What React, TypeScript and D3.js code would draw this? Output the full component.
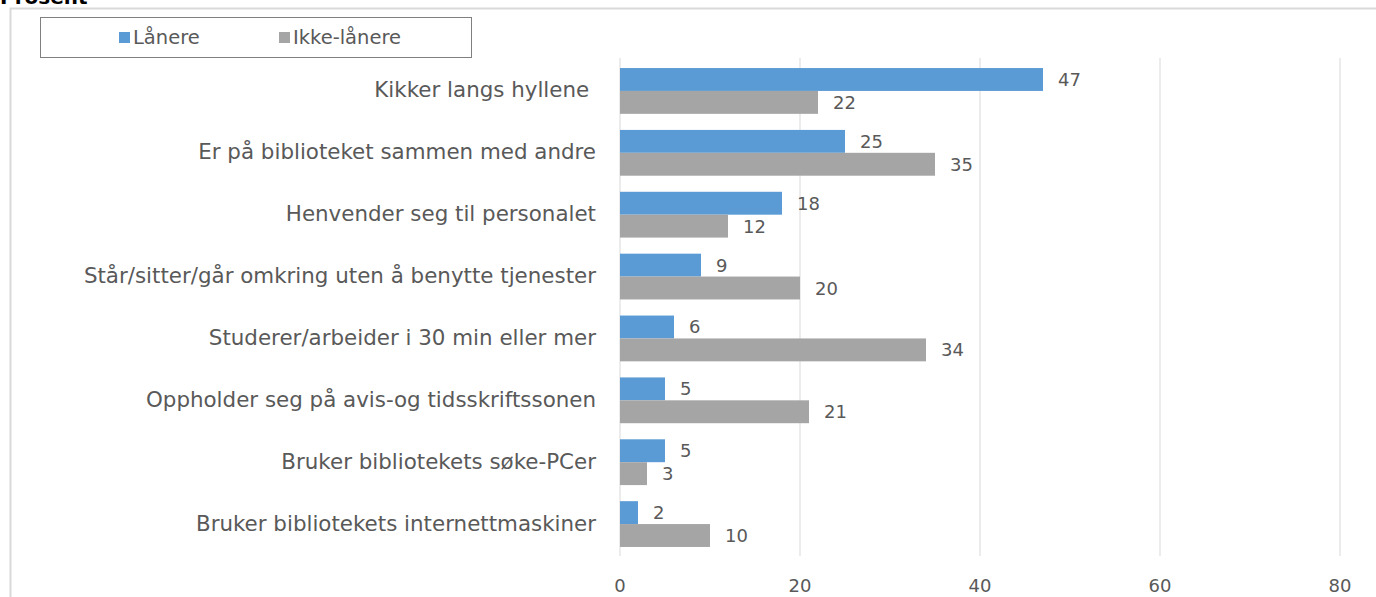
import React from "react";
import * as d3 from "d3";

const categories = [
  "Kikker langs hyllene ",
  "Er på biblioteket sammen med andre",
  "Henvender seg til personalet",
  "Står/sitter/går omkring uten å benytte tjenester",
  "Studerer/arbeider i 30 min eller mer",
  "Oppholder seg på avis-og tidsskriftssonen",
  "Bruker bibliotekets søke-PCer",
  "Bruker bibliotekets internettmaskiner",
];
const laanere = [47, 25, 18, 9, 6, 5, 5, 2];
const ikkeLaanere = [22, 35, 12, 20, 34, 21, 3, 10];
const seriesNames = ["Lånere", "Ikke-lånere"];
const seriesColors = ["#5B9BD5", "#A5A5A5"];
const xTicks = [0, 20, 40, 60, 80];

const W = 1376;
const H = 597;
const FONT = "'DejaVu Sans', 'Open Sans', sans-serif";
const TXT = "#595959";

export default function App() {
  const x = d3.scaleLinear().domain([0, 80]).range([620, 1340]);
  const y = d3.scaleBand<string>().domain(categories).range([60, 555]).paddingInner(0.26).paddingOuter(0.13);
  const inner = d3.scaleBand<number>().domain([0, 1]).range([0, y.bandwidth()]);
  const series = [laanere, ikkeLaanere];

  return (
    <svg width={W} height={H} style={{ position: "absolute", left: 0, top: 0, background: "#fff" }}>
      <text x={0} y={4} fontFamily={FONT} fontWeight="bold" fontSize={20} fill="#000">Prosent</text>
      <path d={`M10.5,${H} V8.5 H${W}`} fill="none" stroke="#d9d9d9" strokeWidth={2} />
      {/* legend */}
      <rect x={40.5} y={17.5} width={431} height={40} fill="#fff" stroke="#808080" strokeWidth={1} />
      {seriesNames.map((n, i) => (
        <g key={n} transform={`translate(${i === 0 ? 119 : 279},0)`}>
          <rect x={0} y={32} width={11} height={11} fill={seriesColors[i]} />
          <text x={14} y={37.5} dominantBaseline="central" fontFamily={FONT} fontSize={19.5} fill={TXT}>{n}</text>
        </g>
      ))}
      {/* grid */}
      {xTicks.map((t) => (
        <g key={t}>
          <line x1={x(t)} x2={x(t)} y1={58} y2={556} stroke="#d9d9d9" strokeWidth={1} />
          <text x={x(t)} y={585} textAnchor="middle" dominantBaseline="central" fontFamily={FONT} fontSize={18} fill={TXT}>{t}</text>
        </g>
      ))}
      {/* bars */}
      {categories.map((c, ci) => (
        <g key={c}>
          <text x={596} y={(y(c) as number) + y.bandwidth() / 2 - 1} textAnchor="end" dominantBaseline="central" fontFamily={FONT} fontSize={21.4} fill={TXT} style={{ whiteSpace: "pre" }}>{c}</text>
          {series.map((s, si) => {
            const by = (y(c) as number) + (inner(si) as number);
            return (
              <g key={si}>
                <rect x={x(0)} y={by} width={x(s[ci]) - x(0)} height={inner.bandwidth()} fill={seriesColors[si]} />
                <text x={x(s[ci]) + 15} y={by + inner.bandwidth() / 2} dominantBaseline="central" fontFamily={FONT} fontSize={18} fill={TXT}>{s[ci]}</text>
              </g>
            );
          })}
        </g>
      ))}
    </svg>
  );
}
